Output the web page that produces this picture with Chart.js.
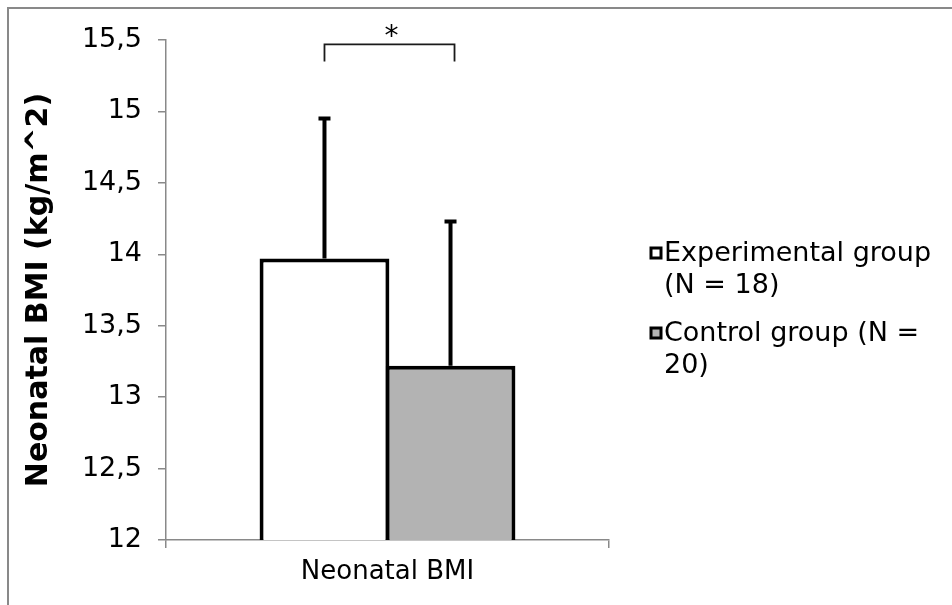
<!DOCTYPE html>
<html>
<head>
<meta charset="utf-8">
<script src="https://cdn.jsdelivr.net/npm/chart.js@4.4.1/dist/chart.umd.min.js"></script>
<style>
  html, body { margin: 0; padding: 0; background: #fff; }
  #wrap { position: relative; width: 952px; height: 605px; }
</style>
</head>
<body>
<div id="wrap"><canvas id="bmiChart" width="952" height="605"></canvas></div>
<script>
// values
const categories = ['Neonatal BMI'];
const groupNames = ['Experimental group (N = 18)', 'Control group (N = 20)'];
const legendLines = [['Experimental group', '(N = 18)'], ['Control group (N =', '20)']];
const meanBmi = [13.97, 13.22];
const sdBmi = [0.98, 1.01];
const barColors = ['#ffffff', '#b3b3b3'];
const yMin = 12;
const yMax = 15.5;
const yStep = 0.5;
const sigMark = '*';
const bracketTop = 15.47;
const bracketFoot = 15.35;
const starLevel = 15.56;

const FONT = 'Verdana, "DejaVu Sans", sans-serif';
const AXIS_GRAY = '#898989';

const framePlugin = {
  id: 'frame',
  beforeDraw(chart) {
    const ctx = chart.ctx;
    ctx.save();
    ctx.fillStyle = '#fff';
    ctx.fillRect(0, 0, chart.width, chart.height);
    ctx.strokeStyle = AXIS_GRAY;
    ctx.lineWidth = 2;
    ctx.beginPath();
    ctx.moveTo(8, chart.height);
    ctx.lineTo(8, 8);
    ctx.lineTo(chart.width, 8);
    ctx.stroke();
    ctx.restore();
  }
};

const errorBarPlugin = {
  id: 'errorBars',
  afterDatasetsDraw(chart) {
    const ctx = chart.ctx;
    const y = chart.scales.y;
    ctx.save();
    ctx.strokeStyle = '#000';
    ctx.lineWidth = 4;
    chart.data.datasets.forEach((ds, i) => {
      const bar = chart.getDatasetMeta(i).data[0];
      const top = y.getPixelForValue(meanBmi[i] + sdBmi[i]);
      ctx.beginPath();
      ctx.moveTo(bar.x, bar.y);
      ctx.lineTo(bar.x, top);
      ctx.moveTo(bar.x - 6, top);
      ctx.lineTo(bar.x + 6, top);
      ctx.stroke();
    });

    // significance bracket
    const b0 = chart.getDatasetMeta(0).data[0];
    const b1 = chart.getDatasetMeta(1).data[0];
    const yt = y.getPixelForValue(bracketTop);
    const yf = y.getPixelForValue(bracketFoot);
    ctx.strokeStyle = '#1a1a1a';
    ctx.lineWidth = 1.8;
    ctx.beginPath();
    ctx.moveTo(b0.x, yf);
    ctx.lineTo(b0.x, yt);
    ctx.lineTo(b1.x + 4, yt);
    ctx.lineTo(b1.x + 4, yf);
    ctx.stroke();
    ctx.fillStyle = '#000';
    ctx.font = '28px ' + FONT;
    ctx.textAlign = 'center';
    ctx.textBaseline = 'middle';
    ctx.fillText(sigMark, (b0.x + b1.x + 4) / 2 + 2, y.getPixelForValue(starLevel) + 6);
    ctx.restore();
  }
};

const legendPlugin = {
  id: 'sideLegend',
  afterDraw(chart) {
    const ctx = chart.ctx;
    const left = 651;
    const rows = [253, 333];
    ctx.save();
    ctx.font = '27px ' + FONT;
    ctx.textBaseline = 'middle';
    ctx.textAlign = 'left';
    legendLines.forEach((lines, i) => {
      const cy = rows[i];
      ctx.fillStyle = barColors[i];
      ctx.fillRect(left, cy - 5, 10, 10);
      ctx.strokeStyle = '#000';
      ctx.lineWidth = 3;
      ctx.strokeRect(left, cy - 5, 10, 10);
      ctx.fillStyle = '#000';
      lines.forEach((t, k) => ctx.fillText(t, left + 13, cy + 1 + k * 32));
    });
    ctx.restore();
  }
};

new Chart(document.getElementById('bmiChart'), {
  type: 'bar',
  data: {
    labels: categories,
    datasets: groupNames.map((name, i) => ({
      label: name,
      data: [meanBmi[i]],
      backgroundColor: barColors[i],
      borderColor: '#000',
      borderWidth: 4,
      borderSkipped: false,
      categoryPercentage: 0.569,
      barPercentage: 1.03
    }))
  },
  options: {
    responsive: false,
    animation: false,
    layout: { padding: { top: 40, right: 343, bottom: 0, left: 0 } },
    plugins: {
      legend: { display: false },
      tooltip: { enabled: false }
    },
    scales: {
      x: {
        afterFit: s => { s.height = 65; },
        border: { color: AXIS_GRAY, width: 1.5 },
        grid: { drawOnChartArea: false, color: AXIS_GRAY, lineWidth: 1.5, tickLength: 8 },
        ticks: { color: '#000', padding: 9, font: { family: FONT, size: 26 } }
      },
      y: {
        min: yMin,
        max: yMax,
        afterFit: s => { s.width = 166; },
        border: { color: AXIS_GRAY, width: 1.5 },
        grid: { drawOnChartArea: false, color: AXIS_GRAY, lineWidth: 1.5, tickLength: 8 },
        ticks: {
          stepSize: yStep,
          color: '#000',
          padding: 16,
          font: { family: FONT, size: 27 },
          callback: v => String(v).replace('.', ',')
        },
        title: {
          display: true,
          text: 'Neonatal BMI (kg/m^2)',
          color: '#000',
          padding: { top: 21, bottom: 0 },
          font: { family: FONT, size: 30, weight: 'bold' }
        }
      }
    }
  },
  plugins: [framePlugin, errorBarPlugin, legendPlugin]
});
</script>
</body>
</html>
